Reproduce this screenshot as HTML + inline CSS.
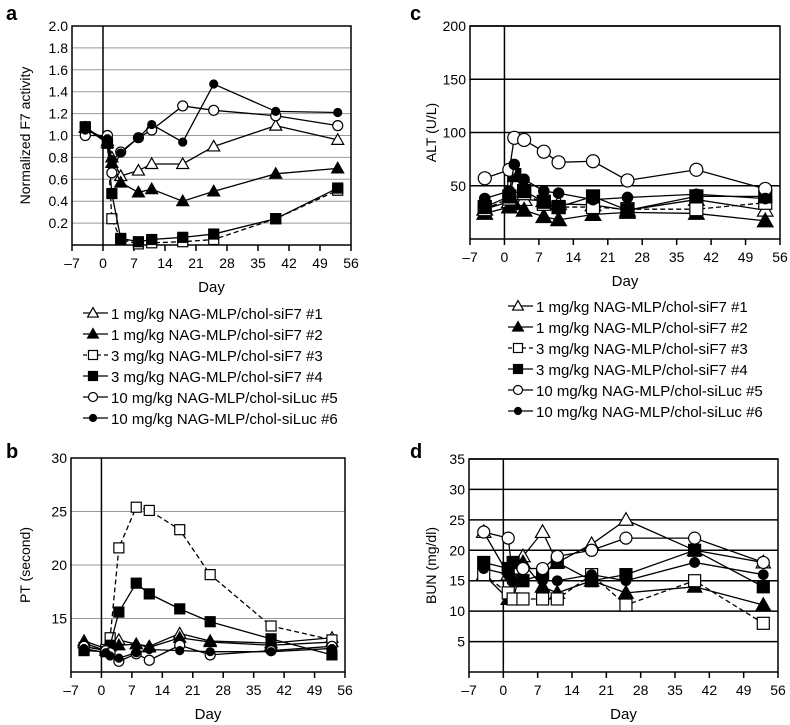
<!DOCTYPE html>
<html><head><meta charset="utf-8"><style>
body{margin:0;background:#fff;}
svg{display:block;font-family:"Liberation Sans",Arial,sans-serif;}
</style></head><body>
<svg id="fig" width="790" height="725" viewBox="0 0 790 725"></svg>
<script>
const days=[-4,1,2,4,8,11,18,25,39,53];
const xTicks=[-7,0,7,14,21,28,35,42,49,56];
const seriesNames=["1 mg/kg NAG-MLP/chol-siF7 #1","1 mg/kg NAG-MLP/chol-siF7 #2","3 mg/kg NAG-MLP/chol-siF7 #3","3 mg/kg NAG-MLP/chol-siF7 #4","10 mg/kg NAG-MLP/chol-siLuc #5","10 mg/kg NAG-MLP/chol-siLuc #6"];
const markers=["tri-open","tri-fill","sq-open","sq-fill","circ-open","circ-fill"];
const dashed=[false,false,true,false,false,false];
// Panel a: Normalized F7 activity
const f7s1=[1.07,0.95,0.80,0.63,0.68,0.74,0.74,0.90,1.09,0.96];
const f7s2=[1.07,0.93,0.75,0.57,0.48,0.51,0.40,0.49,0.65,0.70];
const f7s3=[1.07,0.93,0.24,0.05,0.01,0.02,0.03,0.05,0.24,0.50];
const f7s4=[1.08,0.93,0.47,0.06,0.03,0.05,0.07,0.10,0.24,0.52];
const f7s5=[1.00,1.00,0.66,0.85,0.98,1.05,1.27,1.23,1.18,1.09];
const f7s6=[1.05,0.97,0.78,0.84,0.98,1.10,0.94,1.47,1.22,1.21];
const f7Ticks=[0.2,0.4,0.6,0.8,1.0,1.2,1.4,1.6,1.8,2.0];
// Panel c: ALT
const alt1=[28,35,45,37,36,33,32,27,37,27];
const alt2=[24,30,33,27,21,18,23,25,24,17];
const alt3=[28,38,50,43,33,30,30,28,28,34];
const alt4=[30,40,60,45,35,30,40,27,40,40];
const alt5=[57,65,95,93,82,72,73,55,65,47];
const alt6=[38,45,70,56,45,43,37,39,42,38];
const altTicks=[50,100,150,200];
// Panel b: PT
const pt1=[12.9,12.2,12.6,13.0,12.6,12.4,13.6,12.9,12.7,13.2];
const pt2=[12.7,12.0,12.4,12.5,12.6,12.3,13.2,12.8,12.5,12.8];
const pt3=[12.3,12.1,13.2,21.6,25.4,25.1,23.3,19.1,14.3,13.0];
const pt4=[12.0,11.9,12.5,15.6,18.3,17.3,15.9,14.7,13.1,11.6];
const pt5=[12.4,12.0,11.8,11.0,11.7,11.1,12.5,11.6,12.0,12.4];
const pt6=[12.2,11.8,11.5,11.3,11.8,12.1,12.0,11.9,11.9,12.2];
const ptTicks=[15,20,25,30];
// Panel d: BUN
const bun1=[23,16,17,19,23,18,21,25,20,18];
const bun2=[16,12,12,18,14,13,15,13,14,11];
const bun3=[16,13,12,12,12,12,16,11,15,8];
const bun4=[18,17,18,15,16,18,15,16,20,14];
const bun5=[23,22,15,17,17,19,20,22,22,18];
const bun6=[17,16,15,15,15,15,16,15,18,16];
const bunTicks=[5,10,15,20,25,30,35];

const NS="http://www.w3.org/2000/svg";
const svg=document.getElementById('fig');
function mk(tag,attrs,parent){const e=document.createElementNS(NS,tag);for(const k in attrs)e.setAttribute(k,attrs[k]);(parent||svg).appendChild(e);return e;}

function marker(g,type,cx,cy,s){
  let e;
  const fill=type.endsWith('fill')?'#000':'#fff';
  if(type.startsWith('tri')) e=mk('polygon',{points:`${cx},${cy-s*0.6} ${cx-s*0.6},${cy+s*0.45} ${cx+s*0.6},${cy+s*0.45}`,fill:fill,stroke:'#000','stroke-width':1.2},g);
  else if(type.startsWith('sq')) e=mk('rect',{x:cx-s/2,y:cy-s/2,width:s,height:s,fill:fill,stroke:'#000','stroke-width':1.2},g);
  else e=mk('circle',{cx:cx,cy:cy,r:s/2,fill:fill,stroke:'#000','stroke-width':1.2},g);
  return e;
}

function panel(p){
  const g=mk('g',{});
  
  
  const xs=d=>p.x0+(d+7)/63*(p.x1-p.x0);
  const ys=v=>p.y1-(v-p.ymin)/(p.ymax-p.ymin)*(p.y1-p.y0);
  // grid
  p.yTicks.forEach(t=>{
    const gl=mk('line',{x1:p.x0,x2:p.x1,y1:ys(t),y2:ys(t),stroke:p.gridColor,'stroke-width':p.gridW},g);
    
    
    const tl=mk('text',{x:p.x0-4,y:ys(t)+5,'text-anchor':'end','font-size':14},g);
    tl.textContent=p.fmt?t.toFixed(1):t;
    
    
  });
  const fr=mk('rect',{x:p.x0,y:p.y0,width:p.x1-p.x0,height:p.y1-p.y0,fill:'none',stroke:'#000','stroke-width':1.5},g);
  
  
  const z=mk('line',{x1:xs(0),x2:xs(0),y1:p.y0,y2:p.y1,stroke:'#000','stroke-width':1.5},g);
  
  
  xTicks.forEach(t=>{
    mk('line',{x1:xs(t),x2:xs(t),y1:p.y1,y2:p.y1+6,stroke:'#000','stroke-width':1.5},g);
    const tl=mk('text',{x:xs(t),y:p.y1+23,'text-anchor':'middle','font-size':14},g);
    tl.textContent=t<0?'\u2013'+(-t):t;
    
    
  });
  const xt=mk('text',{x:(p.x0+p.x1)/2,y:p.y1+47,'text-anchor':'middle','font-size':15},g);
  xt.textContent='Day';
  
  
  const yt=mk('text',{x:p.ylx,y:(p.y0+p.y1)/2,'text-anchor':'middle','font-size':14,transform:`rotate(-90 ${p.ylx} ${(p.y0+p.y1)/2})`},g);
  yt.textContent=p.ylabel;
  
  
  const lt=mk('text',{x:p.lx,y:p.ly,'font-size':20,'font-weight':'bold'},g);
  lt.textContent=p.letter;
  
  
  p.series.forEach((vals,i)=>{
    const sg=mk('g',{},g);
    
    
    const pts=vals.map((v,j)=>xs(days[j])+','+ys(v)).join(' ');
    const pl=mk('polyline',{points:pts,fill:'none',stroke:'#000','stroke-width':1.3,'stroke-dasharray':dashed[i]?'5,3':'none'},sg);
    
    
    vals.forEach((v,j)=>{
      const m=marker(sg,markers[i],xs(days[j]),ys(v),p.ms*(markers[i].startsWith('circ')&&markers[i].endsWith('fill')?0.8:1));
      
      
    });
  });
}

function legend(x,y,name){
  const g=mk('g',{});
  
  
  seriesNames.forEach((s,i)=>{
    const yy=y+i*21;
    const e=mk('g',{},g);
    
    
    mk('line',{x1:x,x2:x+25,y1:yy,y2:yy,stroke:'#000','stroke-width':1.3,'stroke-dasharray':dashed[i]?'4,3':'none'},e);
    marker(e,markers[i],x+10,yy,markers[i].startsWith('circ')&&markers[i].endsWith('fill')?7:9);
    const t=mk('text',{x:x+28,y:yy+6,'font-size':15},e);
    t.textContent=s;
  });
}

panel({name:'panel-a-f7',x0:72,x1:351,y0:26,y1:245,ymin:0,ymax:2,yTicks:f7Ticks,fmt:true,gridColor:'#999',gridW:1,ylabel:'Normalized F7 activity',ylx:30,letter:'a',lx:6,ly:20,ms:10,series:[f7s1,f7s2,f7s3,f7s4,f7s5,f7s6]});
panel({name:'panel-c-alt',x0:470,x1:780,y0:26,y1:239,ymin:0,ymax:200,yTicks:altTicks,gridColor:'#000',gridW:1.5,ylabel:'ALT (U/L)',ylx:436,letter:'c',lx:410,ly:20,ms:13,series:[alt1,alt2,alt3,alt4,alt5,alt6]});
panel({name:'panel-b-pt',x0:71,x1:345,y0:458,y1:672,ymin:10,ymax:30,yTicks:ptTicks,gridColor:'#999',gridW:1,ylabel:'PT (second)',ylx:30,letter:'b',lx:6,ly:458,ms:10,series:[pt1,pt2,pt3,pt4,pt5,pt6]});
panel({name:'panel-d-bun',x0:469,x1:778,y0:459,y1:672,ymin:0,ymax:35,yTicks:bunTicks,gridColor:'#000',gridW:1.5,ylabel:'BUN (mg/dl)',ylx:436,letter:'d',lx:410,ly:458,ms:12,series:[bun1,bun2,bun3,bun4,bun5,bun6]});
legend(83,313,'legend-a');
legend(508,306,'legend-c');
</script>
</body></html>
